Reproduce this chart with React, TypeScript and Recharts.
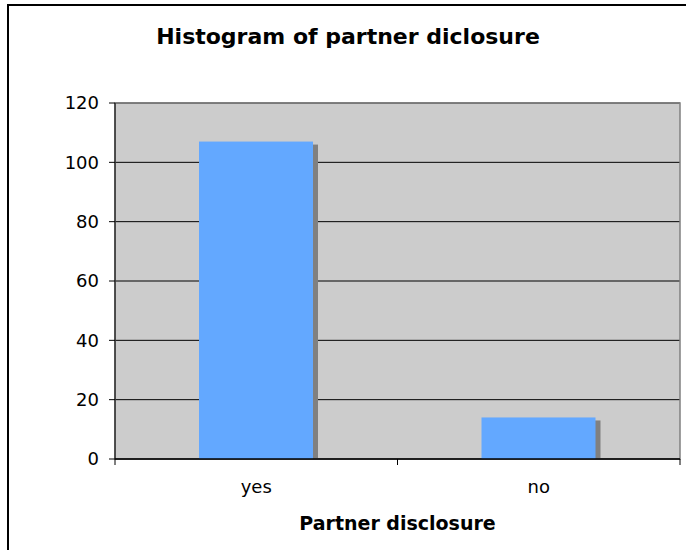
import { BarChart, Bar, XAxis, YAxis, CartesianGrid, ReferenceArea } from "recharts";

const categories = ["yes", "no"];
const counts = [107, 14];
const yTicks = [0, 20, 40, 60, 80, 100, 120];

const data = categories.map((name, i) => ({ name, count: counts[i] }));

const WIDTH = 686;
const HEIGHT = 550;
const MARGIN = { top: 103, right: 6, bottom: 31, left: 55 };
const Y_AXIS_W = 60;
const X_AXIS_H = 60;
const TICK_SIZE = 6;
const X_TICK_MARGIN = 15;
const PLOT_W = WIDTH - MARGIN.left - Y_AXIS_W - MARGIN.right;
const BAND = PLOT_W / categories.length;

const FONT = "'DejaVu Sans', Verdana, sans-serif";

const ShadowBar = (props: any) => {
  const { x, y, width, height } = props;
  if (!height || height <= 0) return null;
  return (
    <g>
      <rect x={x + 5} y={y + 3} width={width} height={height - 3} fill="#808080" />
      <rect x={x} y={y} width={width} height={height} fill="#63a8ff" />
    </g>
  );
};

const CategoryTick = (props: any) => {
  const { x, y, payload, index } = props;
  const axisY = y - TICK_SIZE - X_TICK_MARGIN;
  const left = x - BAND / 2;
  return (
    <g>
      <line x1={left} x2={left} y1={axisY} y2={axisY + TICK_SIZE} stroke="#000" />
      {index === categories.length - 1 && (
        <line x1={x + BAND / 2} x2={x + BAND / 2} y1={axisY} y2={axisY + TICK_SIZE} stroke="#000" />
      )}
      <text x={x} y={y} dy="0.71em" textAnchor="middle" fill="#000" fontSize={18} fontFamily={FONT}>
        {payload.value}
      </text>
    </g>
  );
};

export default function App() {
  return (
    <div style={{ position: "absolute", left: 0, top: 0, width: WIDTH, height: HEIGHT, background: "#fff", overflow: "hidden" }}>
      <div
        style={{
          position: "absolute",
          left: 7,
          top: 4,
          width: WIDTH,
          height: HEIGHT,
          borderTop: "2px solid #000",
          borderLeft: "2px solid #000",
        }}
      />
      <div
        style={{
          position: "absolute",
          left: 5,
          top: 24,
          width: WIDTH,
          textAlign: "center",
          fontFamily: FONT,
          fontWeight: "bold",
          fontSize: 22,
          color: "#000",
          whiteSpace: "nowrap",
        }}
      >
        Histogram of partner diclosure
      </div>
      <div style={{ position: "absolute", left: 0, top: 0 }}>
        <BarChart width={WIDTH} height={HEIGHT} data={data} margin={MARGIN}>
          <CartesianGrid vertical={false} stroke="#000" fill="#cccccc" fillOpacity={1} />
          <ReferenceArea y1={0} y2={120} fill="none" stroke="#808080" strokeWidth={1.5} ifOverflow="visible" />
          <XAxis
            dataKey="name"
            height={X_AXIS_H}
            axisLine={{ stroke: "#000", strokeWidth: 1.5 }}
            tickLine={false}
            tickSize={TICK_SIZE}
            tickMargin={X_TICK_MARGIN}
            tick={<CategoryTick />}
            interval={0}
          />
          <YAxis
            width={Y_AXIS_W}
            domain={[0, 120]}
            ticks={yTicks}
            interval={0}
            axisLine={{ stroke: "#000" }}
            tickLine={{ stroke: "#000" }}
            tickSize={TICK_SIZE}
            tickMargin={10}
            tick={{ fill: "#000", fontSize: 18, fontFamily: FONT }}
          />
          <Bar dataKey="count" barSize={114} shape={<ShadowBar />} isAnimationActive={false} />
        </BarChart>
      </div>
      <div
        style={{
          position: "absolute",
          left: 115,
          width: PLOT_W,
          top: 512,
          textAlign: "center",
          fontFamily: FONT,
          fontWeight: "bold",
          fontSize: 19,
          color: "#000",
          whiteSpace: "nowrap",
        }}
      >
        Partner disclosure
      </div>
    </div>
  );
}
